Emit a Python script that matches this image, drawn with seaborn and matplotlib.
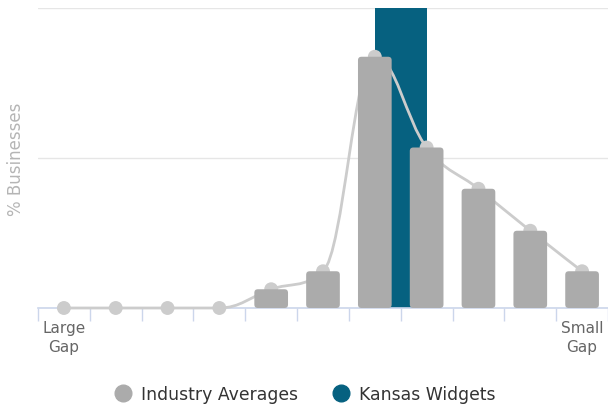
import numpy as np
import pandas as pd
import seaborn as sns
import matplotlib
matplotlib.use("Agg")
import matplotlib.pyplot as plt
from matplotlib.path import Path
from matplotlib.patches import PathPatch, FancyBboxPatch
from matplotlib.lines import Line2D

# ---- data ----
categories = list(range(11))
tick_labels = ["Large\nGap", "", "", "", "", "", "", "", "", "", "Small\nGap"]
industry_values = [0, 0, 0, 0, 2.5, 4.9, 33.5, 21.4, 15.9, 10.3, 4.9]
kansas_position = [6.5]
kansas_values = [40]
series_names = ["Industry Averages", "Kansas Widgets"]

GRAY_BAR = "#ababab"
GRAY_LINE = "#cccccc"
TEAL = "#066180"

sns.set_theme(style="white")
plt.rcParams["font.family"] = ["DejaVu Sans"]

fig = plt.figure(figsize=(6.08, 4.06), dpi=100)
ax = fig.add_axes([38 / 608, 1 - 309 / 406, 570 / 608, 300 / 406])
ax.set_xlim(-0.5, 10.5)
ax.set_ylim(0, 40)

# Kansas bar (behind)
sns.barplot(x=kansas_position, y=kansas_values, native_scale=True, color=TEAL,
            width=1.0, ax=ax, saturation=1)
for p in ax.patches:
    p.set_zorder(1)
    p.set_edgecolor("none")
n_before = len(ax.patches)

# Industry bars (front), with rounded corners
sns.barplot(x=categories, y=industry_values, native_scale=True, color=GRAY_BAR,
            width=0.65, ax=ax, saturation=1)
ax.set_xlim(-0.5, 10.5)
ax.set_ylim(0, 40)
px_x = 570 / 11.0   # px per x unit
px_y = 300 / 40.0   # px per y unit
r_px = 3.5
for p in list(ax.patches[n_before:]):
    x0, y0 = p.get_x(), p.get_y()
    w, h = p.get_width(), p.get_height()
    p.remove()
    if h <= 0:
        continue
    fb = FancyBboxPatch((x0, y0), w, h,
                        boxstyle=f"round,pad=0,rounding_size={r_px / px_x}",
                        mutation_aspect=px_x / px_y,
                        facecolor=GRAY_BAR, edgecolor="none", zorder=3)
    ax.add_patch(fb)

# Industry spline line (Highcharts-style smoothing)
xs = np.array(categories, dtype=float)
ys = np.array(industry_values, dtype=float)
n = len(xs)
sm = 1.5
den = sm + 1
left = [(xs[i], ys[i]) for i in range(n)]
right = [(xs[i], ys[i]) for i in range(n)]
for i in range(1, n - 1):
    lx = (sm * xs[i] + xs[i - 1]) / den
    ly = (sm * ys[i] + ys[i - 1]) / den
    rx = (sm * xs[i] + xs[i + 1]) / den
    ry = (sm * ys[i] + ys[i + 1]) / den
    corr = ((ry - ly) * (rx - xs[i])) / (rx - lx) + ys[i] - ry
    ly += corr
    ry += corr
    if ly > ys[i - 1] and ly > ys[i]:
        ly = max(ys[i - 1], ys[i]); ry = 2 * ys[i] - ly
    elif ly < ys[i - 1] and ly < ys[i]:
        ly = min(ys[i - 1], ys[i]); ry = 2 * ys[i] - ly
    if ry > ys[i + 1] and ry > ys[i]:
        ry = max(ys[i + 1], ys[i]); ly = 2 * ys[i] - ry
    elif ry < ys[i + 1] and ry < ys[i]:
        ry = min(ys[i + 1], ys[i]); ly = 2 * ys[i] - ry
    left[i] = (lx, ly)
    right[i] = (rx, ry)
verts = [(xs[0], ys[0])]
codes = [Path.MOVETO]
for i in range(1, n):
    verts += [right[i - 1], left[i], (xs[i], ys[i])]
    codes += [Path.CURVE4] * 3
ax.add_patch(PathPatch(Path(verts, codes), facecolor="none", edgecolor=GRAY_LINE,
                       lw=2.0, zorder=2, capstyle="round", joinstyle="round",
                       clip_on=False))
sc = sns.scatterplot(x=categories, y=industry_values, color=GRAY_LINE, s=100,
                     edgecolor="none", ax=ax, zorder=2.5, clip_on=False)

ax.set_yticks([0, 20, 40])
ax.set_yticklabels([])
ax.tick_params(axis="y", length=0)
ax.grid(axis="y", color="#e6e6e6", lw=1)
ax.set_axisbelow(True)
for s in ["top", "right", "left"]:
    ax.spines[s].set_visible(False)
ax.spines["bottom"].set_color("#ccd6eb")
ax.spines["bottom"].set_linewidth(1.2)
ax.spines["bottom"].set_zorder(1.5)

ax.set_xticks(np.arange(-0.5, 11, 1.0))
ax.set_xticklabels([])
ax.tick_params(axis="x", which="major", length=9.5, width=1, color="#ccd6eb", bottom=True)
ax.set_xticks(categories, minor=True)
ax.set_xticklabels(tick_labels, minor=True, fontsize=11, color="#666666", linespacing=1.3)
ax.tick_params(axis="x", which="minor", length=0, pad=9)

ax.set_xlabel("")
ax.set_ylabel("% Businesses", fontsize=12, color="#b5b5b5", labelpad=6)

handles = [Line2D([], [], marker="o", ls="none", color=GRAY_BAR, markersize=12),
           Line2D([], [], marker="o", ls="none", color=TEAL, markersize=12)]
fig.legend(handles, series_names, loc="center", bbox_to_anchor=(0.502, 1 - 395 / 406),
           ncol=2, frameon=False, fontsize=12.4, handletextpad=0.55, columnspacing=2.0,
           handlelength=1.0, labelcolor="#333333")

fig.savefig("out.png", dpi=100)
